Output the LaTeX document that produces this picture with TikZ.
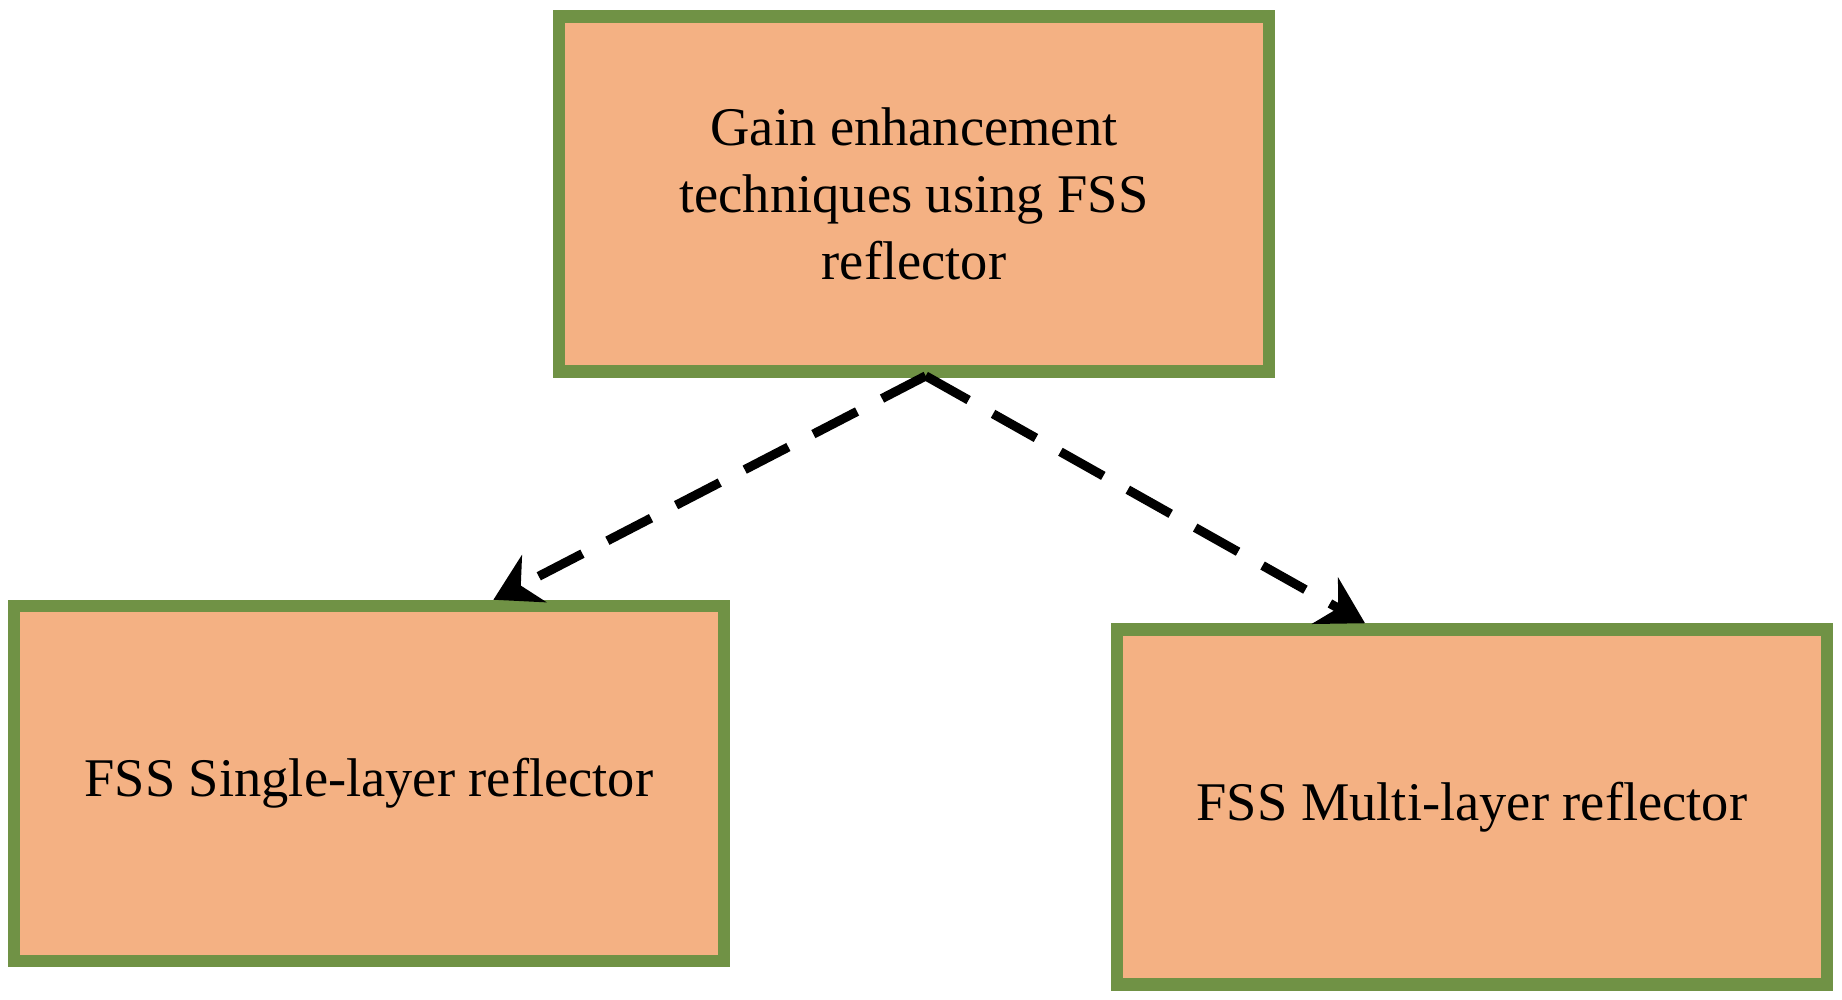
\documentclass[tikz,border=0pt]{standalone}
\usepackage{fontspec}
\setmainfont{Liberation Serif}
\usetikzlibrary{arrows.meta}
\begin{document}
\begin{tikzpicture}[x=0.01175cm,y=-0.01175cm,
  box/.style={draw={rgb,255:red,112;green,146;blue,69},fill={rgb,255:red,244;green,177;blue,131},line width=3.6pt,minimum width=604\pgflinewidth/1.0*0+7.10cm,minimum height=3.55cm,align=center,font=\fontsize{15.5}{19}\selectfont,inner sep=0pt},
  conn/.style={line width=2.6pt,dash pattern=on 14pt off 8pt,-{Stealth[length=13pt,width=15pt]}}]
\useasboundingbox (0,0) rectangle (1568,851);
\node[box] (top) at (778,165) {Gain enhancement\\techniques using FSS\\reflector};
\node[box] (left) at (314,667) {FSS Single-layer reflector};
\node[box] (right) at (1253,687) {FSS Multi-layer reflector};
\coordinate (s) at (788,320);
\draw[conn] (s) -- (left.north -| 420,0);
\draw[conn] (s) -- (right.north -| 1162,0);
\end{tikzpicture}
\end{document}
